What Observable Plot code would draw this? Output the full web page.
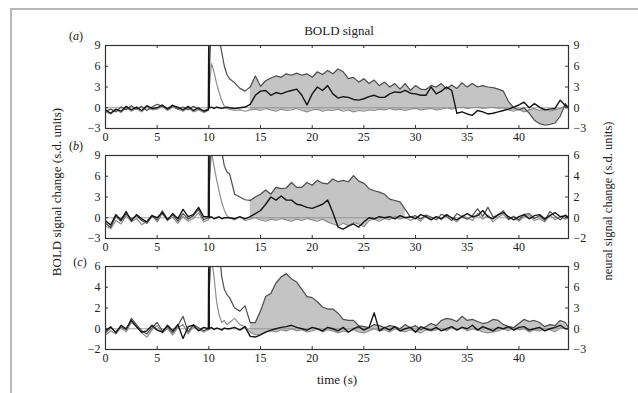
<!DOCTYPE html>
<html><head><meta charset="utf-8">
<script src="https://cdn.jsdelivr.net/npm/d3@7"></script>
<script src="https://cdn.jsdelivr.net/npm/@observablehq/plot@0.6"></script>
<style>
body{margin:0;background:#fff;}
#wrap{position:relative;width:638px;height:393px;overflow:hidden;font-family:"Liberation Serif",serif;color:#222;}
.border{position:absolute;left:10px;top:8px;width:700px;height:420px;border-top:2px solid #b8b8b8;border-left:2px solid #b8b8b8;}
.lbl{position:absolute;white-space:nowrap;transform:translate(-50%,-50%);}
.panel{position:absolute;left:0;}
</style></head><body><div id="wrap"><div class="border"></div></div>
<script>
// time grid (s)
const T = [0,0.5,1,1.5,2,2.5,3,3.5,4,4.5,5,5.5,6,6.5,7,7.5,8,8.5,9,9.5,
  9.95,10,10.05,10.25,10.5,10.75,11,11.25,11.5,11.75,
  12,12.5,13,13.5,14,14.5,15,15.5,16,16.5,17,17.5,18,18.5,19,19.5,20,20.5,21,21.5,
  22,22.5,23,23.5,24,24.5,25,25.5,26,26.5,27,27.5,28,28.5,29,29.5,30,30.5,31,31.5,
  32,32.5,33,33.5,34,34.5,35,35.5,36,36.5,37,37.5,38,38.5,39,39.5,40,40.5,41,41.5,
  42,42.5,43,43.5,44,44.5,44.8];
const xTicks = [0,5,10,15,20,25,30,35,40];

// panel (a): BOLD (s.d. units, left axis), neural (s.d. units, right axis)
const aDark = [-0.5,-0.2,-0.6,0.1,-0.3,0.3,-0.2,0.2,-0.4,0.1, 0.5,0.2,-0.1,0.4,-0.2,0.1,-0.3,0.2,-0.2,-0.4,
  -0.2,0,5,13,12.5,11.5,10,8,6,4.8,
  4.2,3.6,2.8,2.4,3.0,4.6,3.1,3.9,4.3,4.6,
  4.4,4.9,4.7,5.0,4.7,4.9,4.4,5.2,4.8,5.4,
  4.9,5.6,5.2,4.2,4.4,3.7,4.2,3.5,4.0,3.2,
  3.7,3.0,3.5,2.7,3.5,2.5,3.2,2.7,2.6,3.2,
  3.0,3.5,2.7,3.3,2.8,3.6,3.0,3.5,3.0,3.2,
  3.0,2.9,2.7,2.4,0.9,0,-0.3,0,-0.8,-1.8,
  -2.3,-2.5,-2.4,-2.2,-1.2,0.6,0];
const aGray = [-0.6,-0.9,-0.3,-0.7,0,-0.5,-0.1,-0.6,0.1,-0.3, -0.2,0.2,-0.4,0.1,-0.2,-0.5,0,-0.6,-0.3,-0.7,
  -0.4,0,3,6.4,5.2,3.5,2.2,1.0,0.2,-0.1,
  -0.2,-0.4,-0.3,-0.5,-0.3,-0.2,-0.4,-0.1,-0.3,-0.5,
  -0.2,-0.4,-0.3,-0.1,-0.4,-0.6,-0.3,-0.2,-0.5,-0.3,
  -0.4,-0.2,-0.5,-0.3,-0.6,-0.4,-0.5,-0.3,-0.4,-0.2,
  -0.3,-0.1,-0.3,-0.2,-0.4,-0.2,-0.1,-0.3,-0.2,-0.1,
  -0.3,-0.2,0,-0.2,0,0.1,-0.1,0,0.1,-0.1,
  0,0.1,-0.1,0,-0.3,-0.5,-0.2,-0.6,-0.3,-0.1,
  -0.4,-0.2,-0.5,-0.3,-0.1,0.2,0];
const aNeural = [-0.3,-0.8,-0.2,-0.5,0.2,-0.3,0.1,-0.4,0.3,-0.1, 0,0.4,-0.2,0.3,0.1,-0.3,0.2,-0.4,0,-0.5,
  -0.3,12,0,0.1,-0.1,0.1,0,-0.1,0,0.1,
  0,-0.1,0,0.1,0.5,1.8,2.4,2.5,1.8,2.2,
  2,2.3,2.5,2.7,1.8,0.4,2,3,2.5,3.2,
  2,1.4,1.6,1.5,1.2,1.1,1.3,1.6,1.8,1.5,
  1.5,2,2.3,2.2,2.5,2.1,2,1.8,1.8,3,
  2,2.4,3,2.5,-0.8,-0.6,-0.9,-1.1,-0.4,-0.6,
  -0.9,-0.8,-0.6,-0.4,-0.2,0.1,0.4,0.8,0,0.6,
  0.1,-0.3,-0.2,-0.1,1.1,0.3,0];

// panel (b)
const bDark = [-0.8,-1.4,0.2,-0.5,0.6,-0.2,0.3,-0.4,-0.8,0.2, -0.3,1.0,-0.2,0.4,-0.5,0.6,-0.2,0.3,1.2,-0.3,
  0,0.2,5,13,13,12.5,11,9.5,7.5,6.6,
  6.4,3.4,3.0,2.6,2.5,3.0,3.4,4.0,3.4,4.4,
  4.2,4.3,5.1,4.4,4.4,5.1,4.7,5.4,5.0,4.9,
  5.6,5.2,5.4,5.2,6.1,5.3,5.0,4.2,3.9,3.7,
  3.4,2.7,2.5,2.3,1.2,0.1,0.3,-0.2,0.4,0.1,
  -0.3,0.5,0.2,-0.4,0.6,0.1,-0.2,0.3,1.3,0.2,
  1.5,0.1,0.4,1.0,-0.2,0.2,-0.3,0.5,0.6,-0.1,
  0.3,-0.4,0.9,0.2,-0.3,0.4,0.1];
const bGray = [-1.2,-1.6,-0.4,-0.9,0.3,-0.6,-0.1,-1.0,-0.5,0.4, -0.6,0.6,-0.4,0.1,-0.8,0.2,-0.5,-0.1,0.7,-0.6,
  -0.3,0,5,9.5,7.5,5.5,3.8,2.2,1.1,0.3,
  0,-0.3,0.1,-0.4,-0.2,0,-0.3,-0.5,-0.2,-0.4,
  -0.1,-0.3,-0.5,-0.2,-0.4,-0.1,-0.3,-0.5,-0.2,-0.6,
  -0.9,-1.2,-0.8,-1.1,-0.7,-0.9,-1.3,-0.4,-0.2,-0.5,
  -0.1,-0.3,0.2,-0.2,0.1,-0.4,0,-0.5,0.3,-0.2,
  0.1,-0.3,0.4,-0.1,-0.6,0.3,0,-0.4,0.6,-0.2,
  0.4,-0.6,0.1,0.5,-0.3,0.1,-0.5,0.2,0.3,-0.4,
  -0.1,-0.6,0.4,-0.3,0.2,-0.2,0];
const bNeural = [-0.3,-0.7,0.3,-0.2,0.6,-0.3,0.3,-0.1,-0.4,0.2, 0,0.5,-0.2,0.4,-0.1,0.8,0.1,0.3,1.0,0.1,
  0.1,12,0,0.1,-0.1,0,0.1,-0.1,0,0,
  0,-0.1,0.1,-0.1,0.1,0.4,0.7,1.3,2.0,1.7,
  2.1,1.7,1.7,1.3,1.2,1.0,0.9,1.1,1.3,1.7,
  0.5,-0.9,-1.1,-0.8,-0.6,-0.9,-0.4,0,-0.1,0.1,
  0,0.1,-0.1,0.2,0,0.1,-0.1,0.3,0.1,-0.2,
  0.1,-0.1,0.3,0,-0.2,0.1,0.4,0.1,0.2,0.7,
  0.1,-0.1,0.3,0.5,0.1,-0.2,0.1,0.3,-0.1,0.2,
  0.3,-0.1,0.2,0.5,0.1,0.2,0];

// panel (c)
const cDark = [-0.4,0.1,-0.3,0.2,-0.1,1.0,0.4,-0.2,-0.5,0.1, 0.6,-0.2,0.2,-0.4,0.3,1.2,-0.3,0.4,0.1,-0.2,
  0,0.1,4,11,10,9,7.5,5,3.8,3.3,
  3.0,2.0,1.7,2.2,0.6,0.6,1.7,3.1,3.4,4.4,
  5.0,5.3,4.8,4.5,3.8,3.1,3.0,2.6,2.1,1.9,
  1.9,1.5,0.9,0.8,0.8,0.3,0.2,0.1,0.4,0.3,
  0.1,0.3,0.2,0.0,0.4,0.1,0.3,-0.1,0.2,0.5,
  0.3,0.8,1.0,0.9,0.7,1.2,0.8,0.9,0.7,0.5,
  0.6,0.9,0.8,0.4,0.2,0.1,0.5,0.9,0.7,0.8,
  0.6,0.2,0.4,0.3,0.8,0.6,0.1];
const cGray = [-0.6,-0.2,-0.5,0.1,-0.3,0.6,0.2,-0.4,-0.8,-0.1, 0.3,-0.4,0,-0.6,0.1,0.4,-0.5,0.2,-0.1,-0.3,
  -0.1,0,4,7,5,2.6,1.3,0.6,0.8,0.4,
  0.6,1.0,0.4,0.2,-0.3,-0.6,-0.5,-0.3,-0.2,-0.3,
  -0.1,-0.2,0,-0.2,-0.1,-0.3,-0.2,0,-0.3,-0.1,
  -0.2,-0.4,-0.2,-0.3,-0.1,-0.3,-0.4,-0.2,0,-0.2,
  -0.1,-0.3,0,-0.2,-0.3,-0.1,-0.2,-0.4,-0.1,-0.2,
  -0.1,0,-0.2,0.1,-0.1,0.2,-0.2,0,-0.1,-0.3,
  -0.4,-0.3,-0.2,0,-0.2,0.1,-0.1,0,-0.3,-0.1,
  -0.2,0,-0.1,-0.3,0.1,0,0];
const cNeural = [-0.3,0.3,-0.6,0.5,0,1.2,0.3,-0.5,-0.3,0.5, -0.2,-0.5,0.5,-0.3,0.6,-1.4,0.3,0.5,-0.3,0.2,
  0,14,0,0.2,-0.1,0.1,0,-0.2,0.1,0,
  0,0.2,-0.2,0.3,-1.1,-1.2,-0.9,-0.5,-0.2,0,
  0.2,0.3,0.5,0.2,0,-0.2,0.2,0,-0.3,0.2,
  0,-0.3,0.2,-0.5,0,0.3,-0.2,0.2,2.3,-0.3,
  0.2,-0.2,0.3,-0.3,0,0.2,-0.5,0.3,0,-0.2,
  0.2,-0.3,0,0.3,-0.2,0.2,0,0.5,-0.2,0.3,
  0,-0.3,0.2,0,0.3,-0.2,0.2,0.3,-0.2,0,
  0.2,-0.3,0,0.2,0.5,0,0];

const panels = [
  {id:"a", top:41, dark:aDark, gray:aGray, neural:aNeural, leftTicks:[-3,0,3,6,9], rightTicks:[-3,0,3,6,9], yDomain:[-3,9], factor:1, shade:[14,44.8]},
  {id:"b", top:151, dark:bDark, gray:bGray, neural:bNeural, leftTicks:[-3,0,3,6,9], rightTicks:[-2,0,2,4,6], yDomain:[-3,9], factor:2/3, shade:[14,29]},
  {id:"c", top:262, dark:cDark, gray:cGray, neural:cNeural, leftTicks:[-2,0,2,4,6], rightTicks:[-3,0,3,6,9], yDomain:[-2,6], factor:1.5, shade:[14,44.8]}
];

const fmt = d => d < 0 ? "\u2212" + Math.abs(d) : String(d);
const wrap = document.getElementById("wrap");
const W = 638, ML = 105, MR = 70, MT = 4, MB = 20, PH = 83;
const PW = W - ML - MR;

for (const p of panels) {
  const rows = T.map((t, i) => ({t, dark: p.dark[i], gray: p.gray[i], neural: p.neural[i] / p.factor}));
  const shadeRows = rows.filter(d => d.t >= p.shade[0] && d.t <= p.shade[1]);
  const rightPos = p.rightTicks.map(r => r / p.factor);
  const chart = Plot.plot({
    width: W, height: MT + PH + MB,
    marginLeft: ML, marginRight: MR, marginTop: MT, marginBottom: MB,
    x: {domain: [0, 44.8]},
    y: {domain: p.yDomain},
    style: {fontFamily: "'Liberation Serif', serif", fontSize: "12px", background: "transparent", color: "#222", overflow: "visible"},
    marks: [
      Plot.areaY(shadeRows, {x: "t", y1: "gray", y2: "dark", fill: "#c4c4c4", clip: true}),
      Plot.ruleY([0], {stroke: "#8a8a8a", strokeWidth: 0.8}),
      Plot.line(rows, {x: "t", y: "gray", stroke: "#8e8e8e", strokeWidth: 1.2, clip: true}),
      Plot.line(rows, {x: "t", y: "dark", stroke: "#4e4e4e", strokeWidth: 1.2, clip: true}),
      Plot.line(rows, {x: "t", y: "neural", stroke: "#151515", strokeWidth: 1.4, clip: true}),
      Plot.frame({stroke: "#333", strokeWidth: 1.2}),
      Plot.tickX(xTicks, {x: d => d, insetBottom: PH - 3, stroke: "#333"}),
      Plot.tickX(xTicks, {x: d => d, insetTop: PH - 3, stroke: "#333"}),
      Plot.tickY(p.leftTicks, {y: d => d, insetRight: PW - 3, stroke: "#333"}),
      Plot.tickY(rightPos, {y: d => d, insetLeft: PW - 3, stroke: "#333"}),
      Plot.axisX({ticks: xTicks, tickSize: 0, tickPadding: 4, tickFormat: fmt, label: null}),
      Plot.axisY({ticks: p.leftTicks, tickSize: 0, tickPadding: 5, tickFormat: fmt, label: null}),
      Plot.axisY({anchor: "right", ticks: rightPos, tickSize: 0, tickPadding: 5, tickFormat: d => fmt(Math.round(d * p.factor)), label: null})
    ]
  });
  const div = document.createElement("div");
  div.className = "panel";
  div.style.top = p.top + "px";
  div.appendChild(chart);
  wrap.appendChild(div);
}

function label(html, cx, cy, size, rot) {
  const el = document.createElement("div");
  el.className = "lbl";
  el.innerHTML = html;
  el.style.left = cx + "px";
  el.style.top = cy + "px";
  el.style.fontSize = size + "px";
  if (rot) el.style.transform = "translate(-50%,-50%) rotate(" + rot + "deg)";
  wrap.appendChild(el);
}
label("BOLD signal", 339, 31, 13);
label("(<i>a</i>)", 76, 36, 12);
label("(<i>b</i>)", 76, 146, 12);
label("(<i>c</i>)", 80, 262, 12);
label("BOLD signal change (s.d. units)", 57, 192, 13, -90);
label("neural signal change (s.d. units)", 608, 201, 12.5, -90);
label("time (s)", 337, 380, 13);
</script></body></html>
